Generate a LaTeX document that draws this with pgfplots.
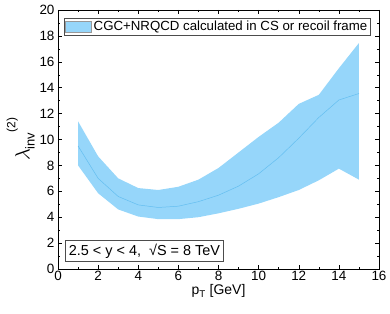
\documentclass[border=0pt]{standalone}
\usepackage{pgfplots}
\pgfplotsset{compat=1.18}
\usepackage{fontspec}
\setmainfont{Liberation Sans}
\definecolor{bandfill}{RGB}{150,214,250}
\definecolor{bandline}{RGB}{100,190,240}
\begin{document}
\begin{tikzpicture}[x=1bp,y=1bp]
\path[use as bounding box] (-58,-45) rectangle (332,269);
\begin{axis}[
  at={(0,0)}, anchor=south west,
  width=321bp, height=259bp, scale only axis,
  xmin=0, xmax=16, ymin=0, ymax=20,
  xtick={0,2,...,16}, ytick={0,2,...,20},
  minor x tick num=1, minor y tick num=1,
  tick align=inside, ticks=both,
  major tick length=4bp, minor tick length=2.5bp,
  tick style={black, line width=0.5pt},
  xtick pos=both, ytick pos=both,
  /pgf/number format/assume math mode=true,
  tick label style={font=\fontsize{13.5}{15}\selectfont},
  xticklabel style={yshift=1bp},
  xlabel={p\textsubscript{T} [GeV]},
  ylabel={\fontsize{21}{22}\selectfont$\lambda$\raisebox{-0.45ex}{\fontsize{13}{14}\selectfont inv}\raisebox{1.3ex}{\fontsize{12}{13}\selectfont (2)}},
  label style={font=\fontsize{14}{16}\selectfont},
  xlabel style={yshift=3bp},
  ylabel style={yshift=-2bp},
  axis line style={black, line width=0.6pt},
  legend style={at={(0.018,0.97)}, anchor=north west, draw=black!70, line width=0.6pt,
    font=\fontsize{13.3}{14}\selectfont, inner sep=1bp, row sep=0pt},
  legend cell align=left,
]
\addplot[fill=bandfill, draw=none, area legend,
  legend image code/.code={\fill[bandfill, draw=black!40, line width=0.3pt] (0cm,-0.2cm) rectangle (0.93cm,0.2cm);}]
 coordinates {
 (1,11.4) (2,8.7) (3,7.0) (4,6.25) (5,6.1) (6,6.35) (7,6.9) (8,7.8) (9,9.0) (10,10.2) (11,11.3) (12,12.75) (13,13.45) (14,15.5) (15,17.45)
 (15,6.9) (14,7.75) (13,6.85) (12,6.1) (11,5.55) (10,5.05) (9,4.65) (8,4.3) (7,4.0) (6,3.85) (5,3.85) (4,4.05) (3,4.6) (2,5.85) (1,8.0)
 } -- cycle;
\addlegendentry{CGC+NRQCD calculated in CS or recoil frame}
\addplot[bandline, line width=0.5pt, forget plot] coordinates {
 (1,9.5) (2,7.0) (3,5.6) (4,4.95) (5,4.75) (6,4.85) (7,5.2) (8,5.7) (9,6.4) (10,7.35) (11,8.6) (12,10.1) (13,11.7) (14,13.05) (15,13.55)
 };
\node[draw=black!70, line width=0.6pt, fill=white, anchor=south west, inner sep=3.5bp,
  font=\fontsize{14.5}{16}\selectfont] at (axis cs:0.35,0.55) {2.5 < y < 4,\ \ √S = 8 TeV};
\end{axis}
\end{tikzpicture}
\end{document}
